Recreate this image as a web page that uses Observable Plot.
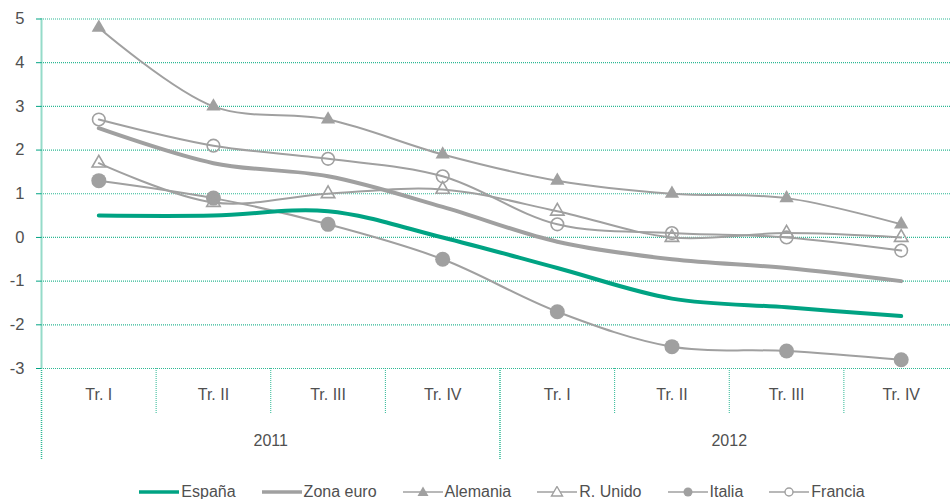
<!DOCTYPE html>
<html><head><meta charset="utf-8">
<script src="https://cdn.jsdelivr.net/npm/d3@7"></script>
<script src="https://cdn.jsdelivr.net/npm/@observablehq/plot@0.6"></script>
<style>
body{margin:0;background:#fff;font-family:"Liberation Sans",Arial,sans-serif;}
#legend{display:flex;justify-content:center;align-items:center;height:20px;padding-left:80px;font-size:16px;color:#505050;}
.item{display:flex;align-items:center;margin-right:26px;}
.item svg{margin-right:2px;}
</style></head><body><div id="chart"></div><div id="legend"></div>
<script>
const quarters = ["Tr. I","Tr. II","Tr. III","Tr. IV","Tr. I","Tr. II","Tr. III","Tr. IV"];
const years = ["2011","2012"];
const yTicks = [-3,-2,-1,0,1,2,3,4,5];
const seriesNames = ["España","Zona euro","Alemania","R. Unido","Italia","Francia"];
const espana   = [0.5, 0.5, 0.6, 0.0, -0.7, -1.4, -1.6, -1.8];
const zonaEuro = [2.5, 1.7, 1.4, 0.7, -0.1, -0.5, -0.7, -1.0];
const alemania = [4.8, 3.0, 2.7, 1.9, 1.3, 1.0, 0.9, 0.3];
const rUnido   = [1.7, 0.8, 1.0, 1.1, 0.6, 0.0, 0.1, 0.0];
const italia   = [1.3, 0.9, 0.3, -0.5, -1.7, -2.5, -2.6, -2.8];
const francia  = [2.7, 2.1, 1.8, 1.4, 0.3, 0.1, 0.0, -0.3];

const TEAL = "#00a383", GRAY = "#a0a0a0", GRID = "#2db894", TXT = "#505050";
const styles = {
  "España":   {values: espana,   stroke: TEAL, width: 4,   symbol: null},
  "Zona euro":{values: zonaEuro, stroke: GRAY, width: 4,   symbol: null},
  "Alemania": {values: alemania, stroke: GRAY, width: 2,   symbol: "triangle", filled: true,  r: 5.3},
  "R. Unido": {values: rUnido,   stroke: GRAY, width: 2,   symbol: "triangle", filled: false, r: 5},
  "Italia":   {values: italia,   stroke: GRAY, width: 2,   symbol: "circle",   filled: true,  r: 7.5},
  "Francia":  {values: francia,  stroke: GRAY, width: 2,   symbol: "circle",   filled: false, r: 6.3}
};

const marks = [];
marks.push(Plot.ruleY(yTicks, {stroke: GRID, strokeDasharray: "1,1", strokeWidth: 1.2}));
marks.push(Plot.ruleX([-0.5], {stroke: GRID, strokeDasharray: "1,1", strokeWidth: 2}));
marks.push(Plot.axisY({ticks: yTicks, tickSize: 5, tickPadding: 12, stroke: TEAL, fill: TXT, fontSize: 16.5, label: null, tickFormat: d => String(d)}));
marks.push(Plot.axisX({ticks: [0.5,1.5,2.5,4.5,5.5,6.5], tickSize: 45, tickFormat: () => "", stroke: GRID, strokeDasharray: "1,1", label: null}));
marks.push(Plot.axisX({ticks: [-0.5,3.5,7.5], tickSize: 92, tickFormat: () => "", stroke: GRID, strokeDasharray: "1,1", strokeWidth: 1.5, label: null}));
marks.push(Plot.axisX({ticks: d3.range(quarters.length), tickSize: 0, tickPadding: 20, tickFormat: i => quarters[i], fill: TXT, fontSize: 16, label: null}));
marks.push(Plot.axisX({ticks: [1.5, 5.5], tickSize: 0, tickPadding: 66, tickFormat: d => years[d < 3.5 ? 0 : 1], fill: TXT, fontSize: 16, label: null}));

const order = ["Italia","Francia","R. Unido","Alemania","Zona euro","España"];
for (const name of order) {
  const s = styles[name];
  const rows = s.values.map((v, i) => ({i, v, serie: name}));
  marks.push(Plot.line(rows, {x: "i", y: "v", stroke: s.stroke, strokeWidth: s.width, curve: "catmull-rom"}));
  if (s.symbol) {
    marks.push(Plot.dot(rows, {x: "i", y: "v", symbol: s.symbol, r: s.r,
      fill: s.filled ? GRAY : "none", stroke: GRAY, strokeWidth: s.filled ? 0 : 1.6}));
  }
}

const chart = Plot.plot({
  width: 950, height: 482,
  marginLeft: 41, marginTop: 18.5, marginBottom: 114, marginRight: 0,
  x: {type: "linear", domain: [-0.5, 7.5], range: [41, 958]},
  y: {domain: [-3, 5], range: [368, 18.5]},
  style: {fontFamily: "'Liberation Sans', Arial, sans-serif", color: TXT, overflow: "visible"},
  marks
});
document.getElementById("chart").appendChild(chart);

const legend = document.getElementById("legend");
for (const name of seriesNames) {
  const s = styles[name];
  const it = document.createElement("div"); it.className = "item";
  let sym = "";
  if (s.symbol === "triangle") {
    sym = `<path d="M20,${6-5.5}L${20+5.5},${6+4}L${20-5.5},${6+4}Z" fill="${s.filled ? GRAY : "white"}" stroke="${GRAY}" stroke-width="${s.filled?0:1.4}"/>`;
  } else if (s.symbol === "circle") {
    sym = `<circle cx="20" cy="6" r="${s.filled ? 4.5 : 4}" fill="${s.filled ? GRAY : "white"}" stroke="${GRAY}" stroke-width="${s.filled?0:1.4}"/>`;
  }
  it.innerHTML = `<svg width="40" height="12"><line x1="0" x2="40" y1="6" y2="6" stroke="${s.stroke}" stroke-width="${s.symbol ? 1.6 : 3.5}"/>${sym}</svg><span>${name}</span>`;
  legend.appendChild(it);
}
</script></body></html>
